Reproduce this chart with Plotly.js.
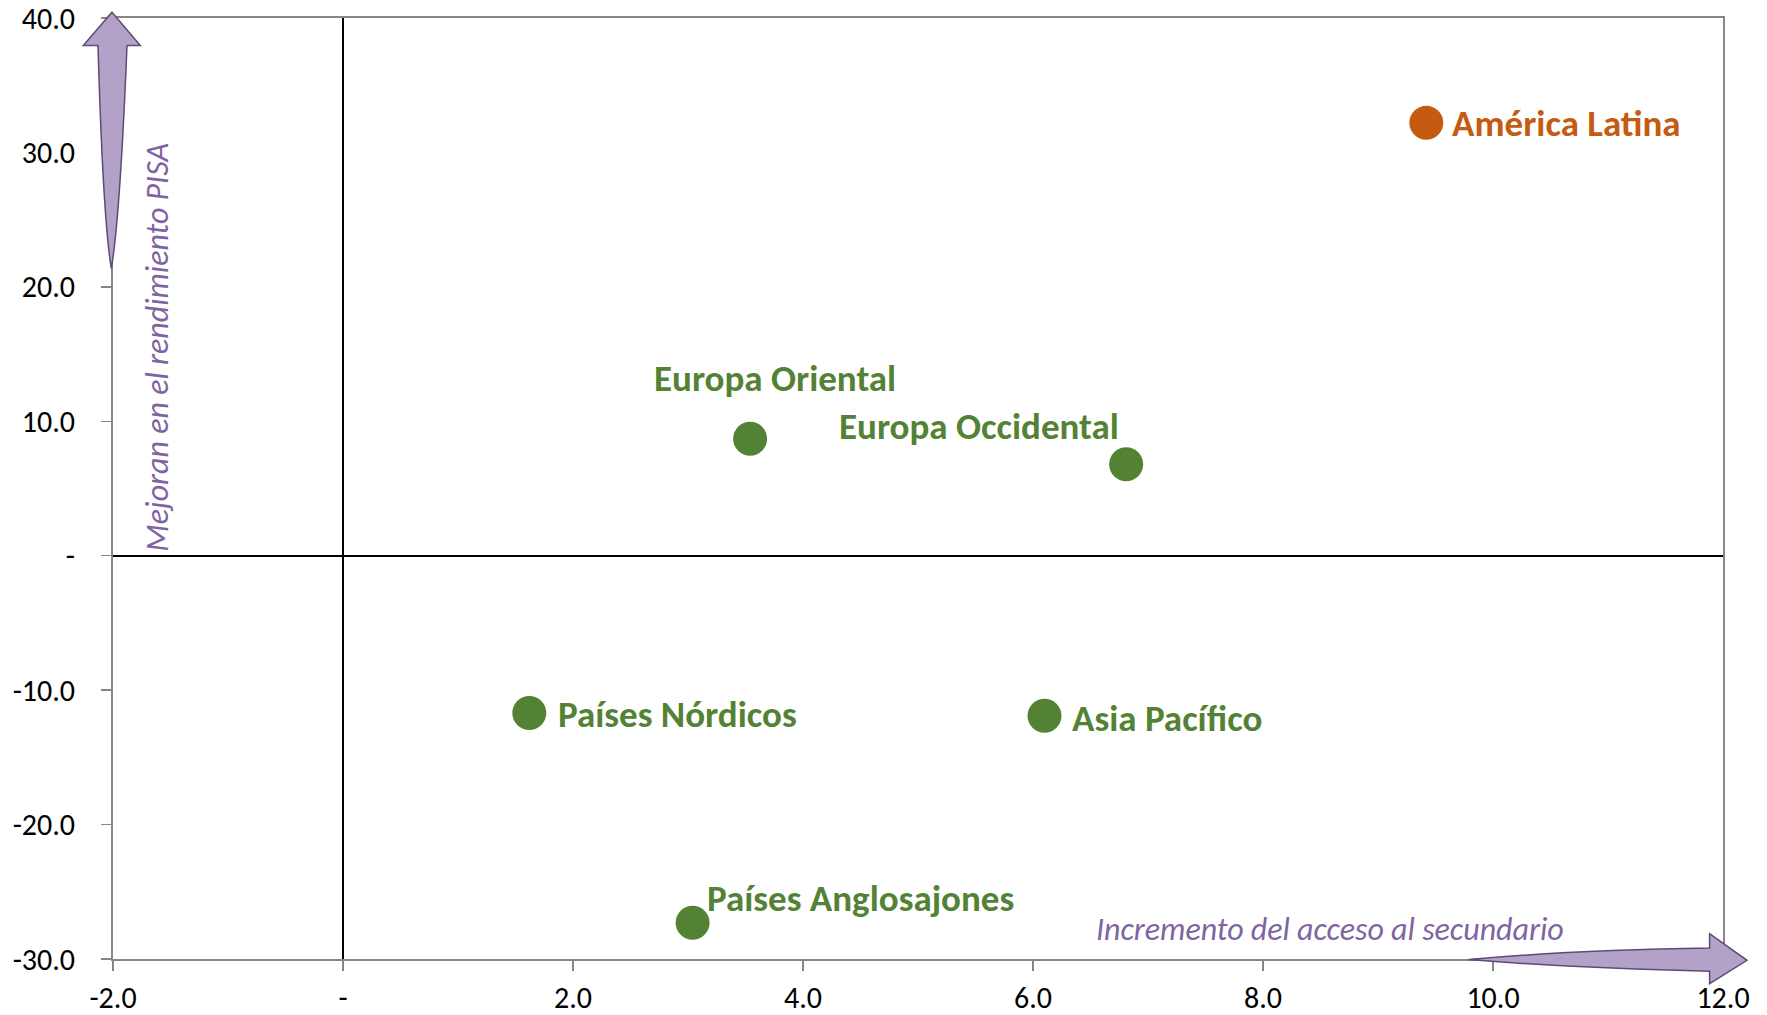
<!DOCTYPE html>
<html>
<head>
<meta charset="utf-8">
<script src="https://cdn.plot.ly/plotly-3.0.1.min.js"></script>
<style>
  html, body { margin: 0; padding: 0; background: #ffffff; }
  #chart { width: 1767px; height: 1015px; }
</style>
</head>
<body>
<div id="chart"></div>
<script>
// ---- Data ----
const regions = ["América Latina", "Europa Oriental", "Europa Occidental", "Países Nórdicos", "Asia Pacífico", "Países Anglosajones"];
const accessGain = [9.42, 3.54, 6.81, 1.62, 6.10, 3.04];     // Incremento del acceso al secundario
const pisaGain = [32.2, 8.7, 6.8, -11.7, -11.9, -27.3];        // Mejoran en el rendimiento PISA
const xTickVals = [-2, 0, 2, 4, 6, 8, 10, 12];
const xTickText = ["-2.0", "-", "2.0", "4.0", "6.0", "8.0", "10.0", "12.0"];
const yTickVals = [-30, -20, -10, 0, 10, 20, 30, 40];
const yTickText = ["-30.0", "-20.0", "-10.0", "-", "10.0", "20.0", "30.0", "40.0"];
const yAxisNote = "Mejoran en el rendimiento PISA";
const xAxisNote = "Incremento del acceso al secundario";

// ---- Styles ----
const GREEN = "#548235";
const ORANGE = "#C55A11";
const PURPLE_TEXT = "#8064A2";
const ARROW_FILL = "#B3A2C7";
const ARROW_LINE = "#5F497A";
const pointColors = [ORANGE, GREEN, GREEN, GREEN, GREEN, GREEN];
const labelStyle = [
  {xanchor: "left", xshift: 24, yshift: -1},
  {xanchor: "center", xshift: 25, yshift: 60},
  {xanchor: "center", xshift: -147, yshift: 38},
  {xanchor: "left", xshift: 27, yshift: -1},
  {xanchor: "left", xshift: 25, yshift: -3},
  {xanchor: "left", xshift: 12, yshift: 24}
];
const FONT = "Carlito, Lato, 'Open Sans', sans-serif";

const trace = {
  type: "scatter",
  mode: "markers",
  x: accessGain,
  y: pisaGain,
  text: regions,
  marker: {size: 34, color: pointColors, line: {width: 0}},
  hoverinfo: "text",
  showlegend: false
};

const annotations = regions.map((r, i) => ({
  x: accessGain[i], y: pisaGain[i], xref: "x", yref: "y",
  text: "<b>" + r + "</b>", showarrow: false,
  xanchor: labelStyle[i].xanchor, yanchor: "middle",
  xshift: labelStyle[i].xshift, yshift: labelStyle[i].yshift,
  font: {family: FONT, size: 37, color: pointColors[i]}
}));

annotations.push({
  xref: "paper", yref: "paper", x: 0.0275, y: 0.650,
  text: "<i>" + yAxisNote + "</i>", textangle: -90, showarrow: false,
  xanchor: "center", yanchor: "middle",
  font: {family: FONT, size: 32, color: PURPLE_TEXT}
});
annotations.push({
  xref: "paper", yref: "paper", x: 0.7561, y: 0.0316,
  text: "<i>" + xAxisNote + "</i>", showarrow: false,
  xanchor: "center", yanchor: "middle",
  font: {family: FONT, size: 32, color: PURPLE_TEXT}
});

const shapes = [
  { // vertical arrow (pixel offsets from top-left corner of plot area)
    type: "path", xref: "paper", yref: "paper",
    xsizemode: "pixel", ysizemode: "pixel", xanchor: 0, yanchor: 1,
    path: "M -1,5.8 L 27.3,-27.5 L 14,-27.5 Q 7,-200 -1.7,-250.5 Q -10,-200 -15,-27.5 L -29.7,-27.5 Z",
    fillcolor: ARROW_FILL, line: {color: ARROW_LINE, width: 1.5}, layer: "above"
  },
  { // horizontal arrow (pixel offsets from bottom-right corner of plot area)
    type: "path", xref: "paper", yref: "paper",
    xsizemode: "pixel", ysizemode: "pixel", xanchor: 1, yanchor: 0,
    path: "M -254.4,-0.6 Q -150,9 -13.4,11 L -13.4,25.4 L 24,-1.3 L -13.4,-24.6 L -13.4,-12.3 Q -150,-9 -254.4,-0.6 Z",
    fillcolor: ARROW_FILL, line: {color: ARROW_LINE, width: 1.5}, layer: "above"
  }
];

const axisCommon = {
  showgrid: false,
  zeroline: true, zerolinecolor: "#000000", zerolinewidth: 2,
  showline: true, linecolor: "#878787", linewidth: 2, mirror: true,
  ticks: "outside", ticklen: 10, tickcolor: "#878787", tickwidth: 1.5,
  tickfont: {family: FONT, size: 30, color: "#000000"},
  ticklabeloverflow: "allow",
  fixedrange: true
};

const layout = {
  width: 1767, height: 1015,
  margin: {l: 113, r: 44, t: 18, b: 56, pad: 0},
  paper_bgcolor: "#ffffff", plot_bgcolor: "#ffffff",
  xaxis: Object.assign({}, axisCommon, {
    range: [-2, 12], tickmode: "array", tickvals: xTickVals, ticktext: xTickText,
    ticklabelstandoff: 1
  }),
  yaxis: Object.assign({}, axisCommon, {
    range: [-30, 40], tickmode: "array", tickvals: yTickVals, ticktext: yTickText,
    ticklabelstandoff: 20
  }),
  annotations: annotations,
  shapes: shapes,
  showlegend: false
};

Plotly.newPlot("chart", [trace], layout, {displayModeBar: false, staticPlot: true});
</script>
</body>
</html>
